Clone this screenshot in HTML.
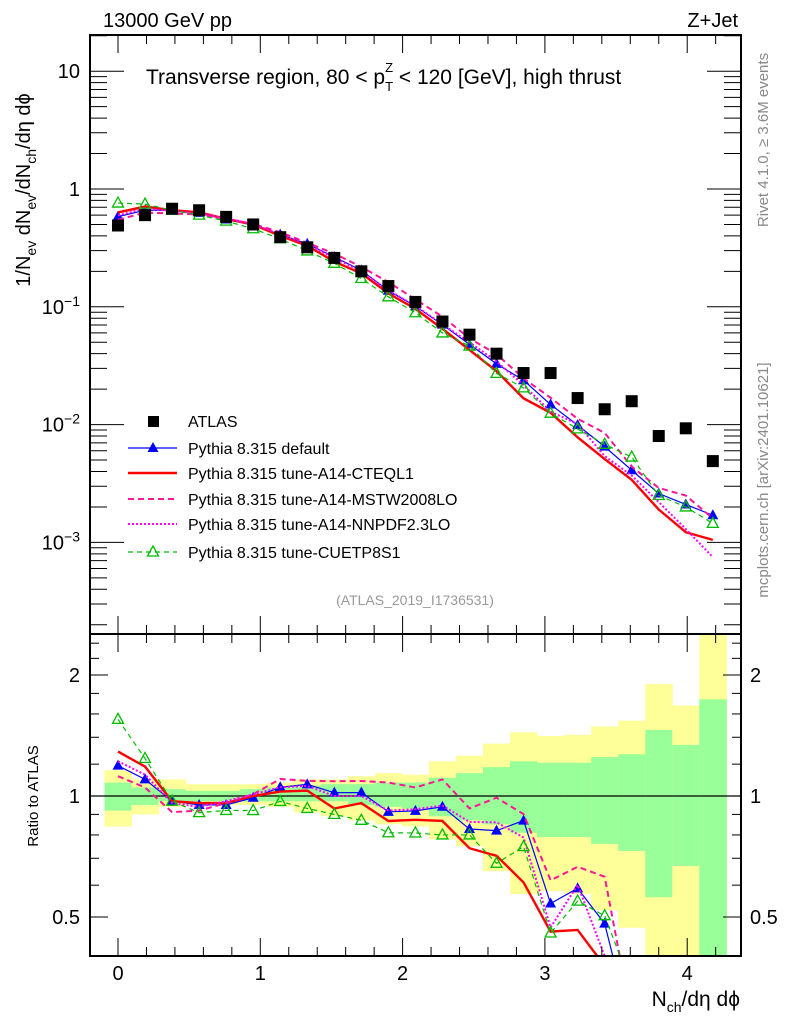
<!DOCTYPE html>
<html><head><meta charset="utf-8">
<style>
html,body{margin:0;padding:0;background:#fff;width:786px;height:1024px;overflow:hidden;}
svg{display:block;font-family:"Liberation Sans",sans-serif;}
</style></head>
<body>
<svg id="c" width="786" height="1024" viewBox="0 0 786 1024" xmlns="http://www.w3.org/2000/svg"></svg>
<script>
const xs = [0,0.19,0.38,0.57,0.76,0.95,1.14,1.33,1.52,1.71,1.9,2.09,2.28,2.47,2.66,2.85,3.04,3.23,3.42,3.61,3.8,3.99,4.18];
const atlas = [0.49,0.60,0.68,0.66,0.58,0.50,0.39,0.32,0.26,0.20,0.15,0.11,0.075,0.058,0.040,0.0274,0.0274,0.0168,0.0135,0.0158,0.0080,0.0093,0.0049];
const mcDefault = [0.583,0.66,0.66,0.627,0.551,0.495,0.41,0.342,0.265,0.204,0.137,0.101,0.0705,0.048,0.0328,0.0238,0.0148,0.0099,0.0065,0.0041,0.0026,0.0021,0.0017];
const mcCTEQ = [0.632,0.71,0.66,0.634,0.557,0.50,0.40,0.33,0.242,0.192,0.13,0.096,0.065,0.043,0.0284,0.0167,0.0126,0.0078,0.0051,0.0034,0.0019,0.00122,0.00105];
const mcMSTW = [0.549,0.63,0.62,0.607,0.557,0.505,0.43,0.349,0.283,0.218,0.162,0.1155,0.0825,0.054,0.0396,0.0247,0.0169,0.0112,0.0085,0.0044,0.0029,0.0025,0.0016];
const mcNNPDF = [0.598,0.678,0.653,0.62,0.563,0.505,0.41,0.339,0.26,0.20,0.138,0.102,0.071,0.050,0.0344,0.0216,0.0129,0.0101,0.0054,0.0037,0.0022,0.0013,0.00075];
const mcCUET = [0.76,0.744,0.66,0.60,0.534,0.46,0.378,0.298,0.234,0.174,0.1215,0.089,0.060,0.0464,0.0272,0.0205,0.0125,0.0092,0.0068,0.0053,0.0025,0.0020,0.00145];
const bandYUp = [1.16,1.1,1.1,1.07,1.07,1.07,1.08,1.1,1.1,1.12,1.14,1.13,1.22,1.26,1.35,1.44,1.41,1.42,1.49,1.54,1.9,1.68,2.6];
const bandYLo = [0.84,0.9,0.94,0.95,0.95,0.95,0.94,0.91,0.89,0.87,0.85,0.84,0.78,0.75,0.65,0.57,0.58,0.57,0.52,0.47,0.3,0.3,0.3];
const bandGUp = [1.08,1.05,1.04,1.03,1.03,1.04,1.05,1.06,1.07,1.07,1.08,1.08,1.11,1.14,1.18,1.22,1.21,1.21,1.25,1.27,1.46,1.34,1.74];
const bandGLo = [0.92,0.95,0.97,0.97,0.97,0.97,0.97,0.97,0.97,0.95,0.94,0.93,0.89,0.87,0.85,0.81,0.79,0.79,0.76,0.73,0.56,0.67,0.3];
const xTicks = [0,1,2,3,4];
const yTicksMain = [{v:10,t:"10"},{v:1,t:"1"},{v:0.1,t:"10",e:"−1"},{v:0.01,t:"10",e:"−2"},{v:0.001,t:"10",e:"−3"}];
const rTicks = [{v:2,t:"2"},{v:1,t:"1"},{v:0.5,t:"0.5"}];

const svg=document.getElementById('c');
const NS='http://www.w3.org/2000/svg';
const L=90,R=741,MT=35,MB=634,RT=634,RB=956;
const X=v=>118+v*142.3;
const YM=v=>189-Math.log10(v)*117.8;
const YR=v=>796-Math.log2(v)*121;
function el(tag,attrs,parent){const e=document.createElementNS(NS,tag);for(const k in attrs)e.setAttribute(k,attrs[k]);(parent||svg).appendChild(e);return e;}
function txt(x,y,s,attrs,parent){const t=el('text',Object.assign({x:x,y:y},attrs||{}),parent);t.textContent=s;return t;}

const defs=el('defs',{});
const cm=el('clipPath',{id:'cm'},defs);el('rect',{x:L,y:MT,width:R-L,height:MB-MT},cm);
const cr=el('clipPath',{id:'cr'},defs);el('rect',{x:L,y:RT,width:R-L,height:RB-RT},cr);

const gb=el('g',{'clip-path':'url(#cr)'});


xs.forEach((x,i)=>{
  const x0=X(x-0.095),x1=X(x+0.095);
  const y=el('rect',{x:x0,y:YR(bandYUp[i]),width:x1-x0+0.5,height:YR(bandYLo[i])-YR(bandYUp[i]),fill:'#ffff99'},gb);
  
  
  const g=el('rect',{x:x0,y:YR(bandGUp[i]),width:x1-x0+0.5,height:YR(bandGLo[i])-YR(bandGUp[i]),fill:'#99ff99'},gb);
  
  
});
el('line',{x1:L,x2:R,y1:YR(1),y2:YR(1),stroke:'#000','stroke-width':1.2});

const series=[
 {d:mcDefault,c:'#0000ff',w:1.2,da:'',m:'tri',name:'default'},
 {d:mcCTEQ,c:'#ff0000',w:2.4,da:'',m:'',name:'cteql1'},
 {d:mcMSTW,c:'#ff1493',w:2,da:'6,4',m:'',name:'mstw2008lo'},
 {d:mcNNPDF,c:'#ff00ff',w:2,da:'2,2',m:'',name:'nnpdf23lo'},
 {d:mcCUET,c:'#00bb00',w:1.2,da:'5,4',m:'otri',name:'cuetp8s1'}
];
function marker(type,x,y,c,parent){
  if(type==='tri')return el('polygon',{points:`${x},${y-6} ${x-5.5},${y+4} ${x+5.5},${y+4}`,fill:c},parent);
  if(type==='otri')return el('polygon',{points:`${x},${y-6} ${x-5.5},${y+4} ${x+5.5},${y+4}`,fill:'none',stroke:c,'stroke-width':1.3},parent);
}
function drawSeries(yf,clip,isRatio){
  series.forEach(s=>{
    const g=el('g',{'clip-path':clip});
    
    
    const pts=xs.map((x,i)=>X(x)+','+yf(isRatio?s.d[i]/atlas[i]:s.d[i])).join(' ');
    el('polyline',{points:pts,fill:'none',stroke:s.c,'stroke-width':s.w,'stroke-dasharray':s.da},g);
    if(s.m)xs.forEach((x,i)=>marker(s.m,X(x),yf(isRatio?s.d[i]/atlas[i]:s.d[i]),s.c,g));
  });
}
drawSeries(YM,'url(#cm)',false);
drawSeries(YR,'url(#cr)',true);
const ga=el('g',{'clip-path':'url(#cm)'});


xs.forEach((x,i)=>{const r=el('rect',{x:X(x)-6,y:YM(atlas[i])-6,width:12,height:12,fill:'#000'},ga);

});

el('rect',{x:L,y:MT,width:R-L,height:MB-MT,fill:'none',stroke:'#000','stroke-width':2});
el('rect',{x:L,y:RT,width:R-L,height:RB-RT,fill:'none',stroke:'#000','stroke-width':2});

const tk=el('g',{stroke:'#000','stroke-width':1});
for(let v=-0.2;v<=4.4;v+=0.2){const vv=Math.round(v*10)/10;const x=X(vv);if(x<L||x>R)continue;
  const maj=Math.abs(vv-Math.round(vv))<1e-6;const len=maj?18:9;
  [[MT,1],[MB,-1],[RT,1],[RB,-1]].forEach(([y,d])=>el('line',{x1:x,x2:x,y1:y,y2:y+d*len},tk));
}
for(let e=-4;e<=1;e++)for(let k=1;k<10;k++){const v=k*Math.pow(10,e);const y=YM(v);if(y<MT||y>MB)continue;
  const len=k===1?34:17;el('line',{x1:L,x2:L+len,y1:y,y2:y},tk);el('line',{x1:R,x2:R-len,y1:y,y2:y},tk);}
[0.4,0.5,0.6,0.7,0.8,0.9,1,1.2,1.4,1.6,1.8,2,2.2,2.4].forEach(v=>{const y=YR(v);if(y<RT||y>RB)return;
  const len=(v===0.5||v===1||v===2)?18:9;el('line',{x1:L,x2:L+len,y1:y,y2:y},tk);el('line',{x1:R,x2:R-len,y1:y,y2:y},tk);});

const lab=el('g',{'font-size':'20',fill:'#000'});
xTicks.forEach(v=>{const t=txt(X(v),980,String(v),{'text-anchor':'middle'},lab);});
yTicksMain.forEach(o=>{
  const tt=el('text',{x:80,y:YM(o.v)+7,'text-anchor':'end'},lab);tt.textContent=o.t;
  if(o.e){const s=el('tspan',{dy:-8,'font-size':'14'},tt);s.textContent=o.e;}
  });
rTicks.forEach(o=>{const a=txt(80,YR(o.v)+7,o.t,{'text-anchor':'end'},lab);
  const b=txt(750,YR(o.v)+7,o.t,{},lab);});

let t;
t=txt(103,27,'13000 GeV pp',{'font-size':'20'});
t=txt(738,27,'Z+Jet',{'font-size':'20','text-anchor':'end'});
t=el('text',{x:146,y:84,'font-size':'21'});t.innerHTML='Transverse region, 80 &lt; p<tspan dy="7" font-size="13">T</tspan><tspan dy="-19" dx="-8" font-size="13">Z</tspan><tspan dy="12"> &lt; 120 [GeV], high thrust</tspan>';

t=txt(415,605,'(ATLAS_2019_I1736531)',{'font-size':'14',fill:'#999','text-anchor':'middle'});
t=el('text',{x:0,y:0,'font-size':'20',transform:'translate(30,190) rotate(-90)','text-anchor':'middle'});
t.innerHTML='1/N<tspan dy="6" font-size="14">ev</tspan><tspan dy="-6"> dN</tspan><tspan dy="6" font-size="14">ev</tspan><tspan dy="-6">/dN</tspan><tspan dy="6" font-size="14">ch</tspan><tspan dy="-6">/dη dϕ</tspan>';

t=txt(0,0,'Ratio to ATLAS',{'font-size':'15',transform:'translate(38,796) rotate(-90)','text-anchor':'middle'});
t=el('text',{x:740,y:1006,'font-size':'21','text-anchor':'end'});t.innerHTML='N<tspan dy="6" font-size="14">ch</tspan><tspan dy="-6">/dη dϕ</tspan>';

t=txt(0,0,'Rivet 4.1.0, ≥ 3.6M events',{'font-size':'15',fill:'#888',transform:'translate(768,140) rotate(-90)','text-anchor':'middle'});
t=txt(0,0,'mcplots.cern.ch [arXiv:2401.10621]',{'font-size':'15',fill:'#888',transform:'translate(768,480) rotate(-90)','text-anchor':'middle'});

const legNames=['ATLAS','Pythia 8.315 default','Pythia 8.315 tune-A14-CTEQL1','Pythia 8.315 tune-A14-MSTW2008LO','Pythia 8.315 tune-A14-NNPDF2.3LO','Pythia 8.315 tune-CUETP8S1'];
const legY=[421,448,473,499,524,552];
legNames.forEach((n,i)=>{
  const g=el('g',{});
  
  
  const y=legY[i];
  if(i===0){el('rect',{x:148,y:y-5,width:11,height:11,fill:'#000'},g);}
  else{const s=series[i-1];el('line',{x1:128,x2:177,y1:y,y2:y,stroke:s.c,'stroke-width':s.w,'stroke-dasharray':s.da},g);if(s.m)marker(s.m,153,y,s.c,g);}
  txt(188,y+6,n,{'font-size':'16'},g);
});
</script>
</body></html>
